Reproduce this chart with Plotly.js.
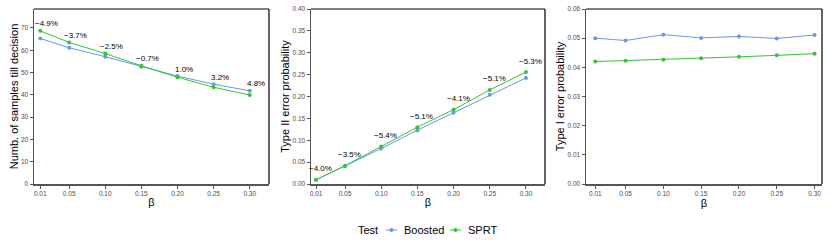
<!DOCTYPE html>
<html>
<head>
<meta charset="utf-8">
<script src="https://cdn.plot.ly/plotly-3.0.1.min.js"></script>
<style>html,body{margin:0;padding:0;background:#fff;}#chart{width:830px;height:249px;}</style>
</head>
<body>
<div id="chart"></div>
<script>
// ---- data ----
const beta = [0.01, 0.05, 0.10, 0.15, 0.20, 0.25, 0.30];
const betaLabels = ["0.01", "0.05", "0.10", "0.15", "0.20", "0.25", "0.30"];

const samplesBoosted = [65.3, 61.1, 57.1, 52.6, 48.4, 44.8, 41.8];
const samplesSPRT    = [68.7, 63.5, 58.5, 53.0, 47.9, 43.4, 39.9];
const samplesDiff    = ["−4.9%", "−3.7%", "−2.5%", "−0.7%", "1.0%", "3.2%", "4.8%"];

const type2Boosted = [0.0095, 0.0405, 0.0810, 0.1231, 0.1629, 0.2042, 0.2425];
const type2SPRT    = [0.0099, 0.0420, 0.0857, 0.1300, 0.1700, 0.2150, 0.2560];
const type2Diff    = ["−4.0%", "−3.5%", "−5.4%", "−5.1%", "−4.1%", "−5.1%", "−5.3%"];

const type1Boosted = [0.0500, 0.0492, 0.0512, 0.0501, 0.0506, 0.0499, 0.0511];
const type1SPRT    = [0.0420, 0.0423, 0.0426, 0.0431, 0.0436, 0.0441, 0.0447];

const seriesNames = ["Boosted", "SPRT"];
const legendTitle = "Test";
const colors = {"Boosted": "#6A96EC", "SPRT": "#35C435"};

// ---- helpers ----
const FONT = "Liberation Sans, Arial, Helvetica, sans-serif";
function trace(name, y, ax) {
  return {
    type: "scatter", mode: "lines+markers", name: name,
    x: beta, y: y, xaxis: "x" + ax, yaxis: "y" + ax,
    line: {color: colors[name], width: 1},
    marker: {color: colors[name], size: 4},
    showlegend: false
  };
}
const data = [
  trace("Boosted", samplesBoosted, ""),
  trace("SPRT", samplesSPRT, ""),
  trace("Boosted", type2Boosted, "2"),
  trace("SPRT", type2SPRT, "2"),
  trace("Boosted", type1Boosted, "3"),
  trace("SPRT", type1SPRT, "3")
];

const W = 830, H = 249;
function px(x) { return x / W; }
function py(y) { return 1 - y / H; }
function xdom(a, b) { return [px(a), px(b)]; }
function ydom(top, bot) { return [py(bot), py(top)]; }

function xaxis(dom, range, anchor) {
  return {
    domain: dom, range: range, anchor: anchor,
    tickmode: "array", tickvals: beta, ticktext: betaLabels,
    ticks: "outside", ticklen: 3, tickcolor: "#555", tickwidth: 1,
    tickfont: {family: FONT, size: 6.5, color: "#4d4d4d"},
    showline: true, linecolor: "#555", linewidth: 1.5,
    showgrid: false, zeroline: false,
    title: {text: "β", font: {family: FONT, size: 11, color: "#000"}, standoff: 2}
  };
}
function yaxis(dom, range, tickvals, fmt, title, anchor) {
  return {
    domain: dom, range: range, anchor: anchor,
    tickmode: "array", tickvals: tickvals, tickformat: fmt,
    ticks: "outside", ticklen: 3, tickcolor: "#555", tickwidth: 1,
    tickfont: {family: FONT, size: 6.5, color: "#4d4d4d"},
    showline: true, linecolor: "#555", linewidth: 1.5,
    showgrid: false, zeroline: false,
    title: {text: title, font: {family: FONT, size: 11, color: "#000"}, standoff: 0}
  };
}

const d1 = xdom(34, 269), d2 = xdom(311, 545), d3 = xdom(586, 822);
const yd = ydom(9, 184);

const annotations = [];
beta.forEach((b, i) => {
  annotations.push({
    x: b, y: Math.max(samplesBoosted[i], samplesSPRT[i]), xref: "x", yref: "y",
    text: samplesDiff[i], showarrow: false, xanchor: "center", yanchor: "middle",
    xshift: 6, yshift: 7, font: {family: FONT, size: 8, color: "#000"}
  });
  annotations.push({
    x: b, y: Math.max(type2Boosted[i], type2SPRT[i]), xref: "x2", yref: "y2",
    text: type2Diff[i], showarrow: false, xanchor: "center", yanchor: "middle",
    xshift: 4.5, yshift: 11, font: {family: FONT, size: 8, color: "#000"}
  });
});

// black top/right panel borders
const shapes = [];
[d1, d2, d3].forEach(d => {
  shapes.push({type: "line", xref: "paper", yref: "paper", x0: d[0], x1: d[1], y0: yd[1], y1: yd[1], line: {color: "#000", width: 1.2}});
  shapes.push({type: "line", xref: "paper", yref: "paper", x0: d[1], x1: d[1], y0: yd[0], y1: yd[1], line: {color: "#000", width: 1.2}});
});

// compact ggplot-style legend at the bottom
const legY = 230;
annotations.push({
  x: px(380), y: py(legY), xref: "paper", yref: "paper", text: legendTitle,
  showarrow: false, xanchor: "right", yanchor: "middle",
  font: {family: FONT, size: 11, color: "#000"}
});
const legItems = [{name: seriesNames[0], x0: 386}, {name: seriesNames[1], x0: 450}];
legItems.forEach(it => {
  const c = colors[it.name];
  shapes.push({type: "line", xref: "paper", yref: "paper", x0: px(it.x0), x1: px(it.x0 + 11), y0: py(legY), y1: py(legY), line: {color: c, width: 1}});
  shapes.push({type: "circle", xref: "paper", yref: "paper", x0: px(it.x0 + 3.5), x1: px(it.x0 + 7.5), y0: py(legY + 2), y1: py(legY - 2), fillcolor: c, line: {color: c, width: 0}});
  annotations.push({
    x: px(it.x0 + 16), y: py(legY), xref: "paper", yref: "paper", text: it.name,
    showarrow: false, xanchor: "left", yanchor: "middle",
    font: {family: FONT, size: 11, color: "#000"}
  });
});

const layout = {
  width: W, height: H,
  margin: {l: 0, r: 0, t: 0, b: 0},
  paper_bgcolor: "#fff", plot_bgcolor: "#fff",
  font: {family: FONT},
  showlegend: false,
  xaxis: xaxis(d1, [0.0013, 0.3267], "y"),
  yaxis: yaxis(yd, [0, 78.5], [0, 10, 20, 30, 40, 50, 60, 70], "d", "Numb. of samples till decision", "x"),
  xaxis2: xaxis(d2, [0.003, 0.3263], "y2"),
  yaxis2: yaxis(yd, [0, 0.40], [0, 0.05, 0.10, 0.15, 0.20, 0.25, 0.30, 0.35, 0.40], ".2f", "Type II error probability", "x2"),
  xaxis3: xaxis(d3, [-0.0023, 0.3098], "y3"),
  yaxis3: yaxis(yd, [0, 0.06], [0, 0.01, 0.02, 0.03, 0.04, 0.05, 0.06], ".2f", "Type I error probability", "x3"),
  annotations: annotations,
  shapes: shapes
};

Plotly.newPlot("chart", data, layout, {displayModeBar: false, staticPlot: true});
</script>
</body>
</html>
